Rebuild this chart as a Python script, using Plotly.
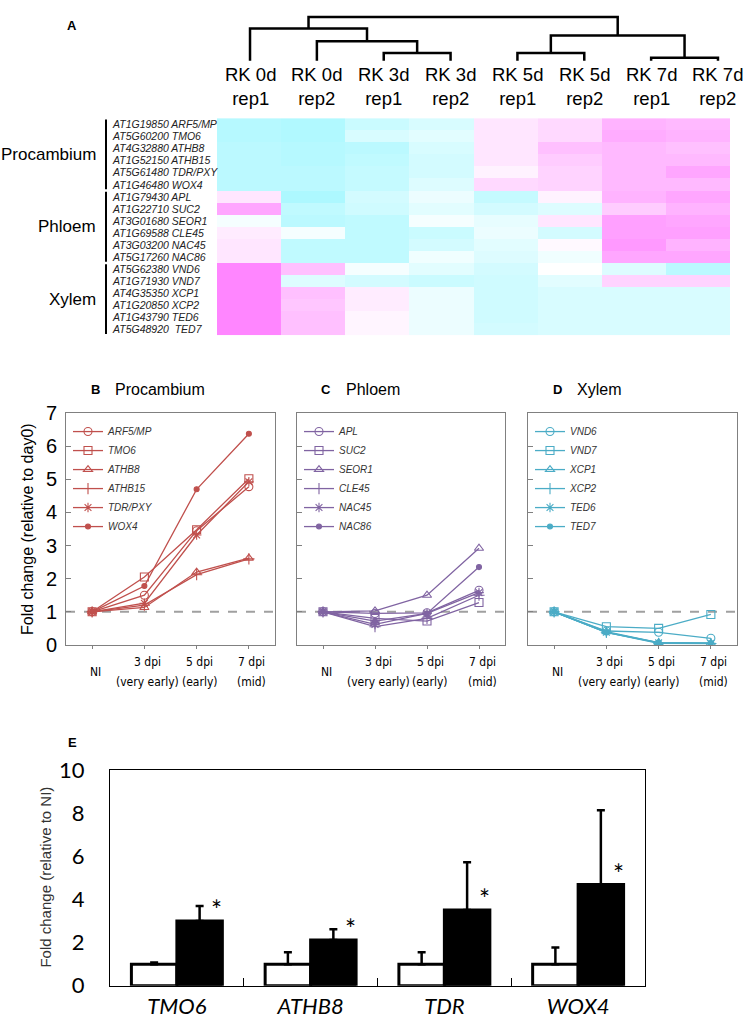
import plotly.graph_objects as go

W, H = 755, 1023


def px(x):
    return x / W


def py(y):
    return 1 - y / H


# ---------------- data ----------------
samples = ["RK 0d<br>rep1", "RK 0d<br>rep2", "RK 3d<br>rep1", "RK 3d<br>rep2",
           "RK 5d<br>rep1", "RK 5d<br>rep2", "RK 7d<br>rep1", "RK 7d<br>rep2"]
genes = ["AT1G19850 ARF5/MP", "AT5G60200 TMO6", "AT4G32880 ATHB8", "AT1G52150 ATHB15",
         "AT5G61480 TDR/PXY", "AT1G46480 WOX4",
         "AT1G79430 APL", "AT1G22710 SUC2", "AT3G01680 SEOR1", "AT1G69588 CLE45",
         "AT3G03200 NAC45", "AT5G17260 NAC86",
         "AT5G62380 VND6", "AT1G71930 VND7", "AT4G35350 XCP1", "AT1G20850 XCP2",
         "AT1G43790 TED6", "AT5G48920  TED7"]
group_names = ["Procambium", "Phloem", "Xylem"]
group_sizes = [6, 6, 6]
heat = [
    [-0.75, -0.80, -0.55, -0.40, 0.20, 0.30, 0.60, 0.55],
    [-0.75, -0.80, -0.40, -0.30, 0.20, 0.30, 0.65, 0.60],
    [-0.70, -0.75, -0.70, -0.40, 0.20, 0.50, 0.55, 0.50],
    [-0.70, -0.75, -0.65, -0.45, 0.20, 0.40, 0.55, 0.55],
    [-0.70, -0.70, -0.60, -0.45, 0.10, 0.35, 0.55, 0.70],
    [-0.70, -0.70, -0.60, -0.35, 0.30, 0.35, 0.55, 0.55],
    [0.20, -0.85, -0.45, -0.20, -0.60, 0.10, 0.60, 0.70],
    [0.70, -0.65, -0.50, -0.30, -0.45, -0.35, 0.40, 0.60],
    [-0.10, -0.70, -0.65, -0.10, -0.25, 0.20, 0.75, 0.70],
    [0.15, -0.10, -0.65, -0.55, -0.20, -0.45, 0.75, 0.75],
    [0.20, -0.65, -0.65, -0.45, -0.30, 0.05, 0.80, 0.60],
    [0.20, -0.65, -0.65, -0.15, -0.35, -0.15, 0.70, 0.70],
    [0.95, 0.50, -0.10, -0.30, -0.45, 0.00, -0.35, -0.70],
    [0.95, -0.35, -0.45, -0.55, -0.50, -0.30, 0.35, 0.35],
    [0.95, 0.50, 0.15, -0.20, -0.50, -0.40, -0.40, -0.40],
    [0.95, 0.45, 0.15, -0.20, -0.50, -0.40, -0.40, -0.40],
    [0.95, 0.50, 0.08, -0.20, -0.50, -0.40, -0.40, -0.40],
    [0.95, 0.50, 0.08, -0.20, -0.45, -0.40, -0.40, -0.40],
]
# dendrogram merges: (child_a, child_b, height); leaves 0..7, merge i gets id 8+i
dendro_merges = [(2, 3, 8), (1, 8, 20), (0, 9, 33), (4, 5, 8), (6, 7, 3), (11, 12, 26), (10, 13, 45)]

time_labels = ["NI", "3 dpi", "5 dpi", "7 dpi"]
time_notes = ["", "(very early)", "(early)", "(mid)"]

proc_genes = ["ARF5/MP", "TMO6", "ATHB8", "ATHB15", "TDR/PXY", "WOX4"]
proc_vals = [
    [1, 1.50, 3.45, 4.78],
    [1, 2.05, 3.48, 5.02],
    [1, 1.13, 2.20, 2.62],
    [1, 1.20, 2.12, 2.60],
    [1, 1.26, 3.32, 4.93],
    [1, 1.78, 4.70, 6.38],
]
phl_genes = ["APL", "SUC2", "SEOR1", "CLE45", "NAC45", "NAC86"]
phl_vals = [
    [1, 0.95, 0.97, 1.65],
    [1, 0.80, 0.72, 1.28],
    [1, 1.03, 1.50, 2.92],
    [1, 0.55, 0.80, 1.50],
    [1, 0.62, 0.95, 1.58],
    [1, 0.72, 0.95, 2.35],
]
xyl_genes = ["VND6", "VND7", "XCP1", "XCP2", "TED6", "TED7"]
xyl_vals = [
    [1, 0.42, 0.38, 0.20],
    [1, 0.55, 0.50, 0.92],
    [1, 0.40, 0.07, 0.05],
    [1, 0.38, 0.05, 0.04],
    [1, 0.38, 0.06, 0.05],
    [1, 0.38, 0.07, 0.05],
]

e_genes = ["TMO6", "ATHB8", "TDR", "WOX4"]
e_ni = [1.0, 1.0, 1.0, 1.0]
e_ni_err = [0.08, 0.55, 0.55, 0.77]
e_trt = [3.0, 2.12, 3.52, 4.7]
e_trt_err = [0.7, 0.5, 2.22, 3.45]

# ---------------- styles ----------------
FONT = "Liberation Sans, Arial, sans-serif"
NARROW = "Liberation Sans Narrow, Arial Narrow, DejaVu Sans Condensed, sans-serif"
CAL = "Lato, Carlito, Calibri, sans-serif"
symbols = ["circle-open", "square-open", "triangle-up-open", "cross-thin-open", "asterisk-open", "circle"]
msizes = [8, 8, 8, 8, 8, 5]

fig = go.Figure()

# ---------------- panel A: heatmap ----------------
fig.add_trace(go.Heatmap(
    z=heat, x=list(range(len(samples))), y=list(range(len(genes))),
    zmin=-1, zmax=1,
    colorscale=[[0, "#9EF7FF"], [0.5, "#FFFFFF"], [1, "#FF80FF"]],
    showscale=False, xaxis="x", yaxis="y", hoverinfo="skip"))

# dendrogram
node_x = {i: float(i) for i in range(len(samples))}
node_h = {i: 0.0 for i in range(len(samples))}
dx, dy = [], []
for k, (a, b, h) in enumerate(dendro_merges):
    nid = len(samples) + k
    dx += [node_x[a], node_x[a], node_x[b], node_x[b], None]
    dy += [node_h[a], h, h, node_h[b], None]
    node_x[nid] = (node_x[a] + node_x[b]) / 2
    node_h[nid] = h
fig.add_trace(go.Scatter(x=dx, y=dy, mode="lines", line=dict(color="black", width=2.5),
                         xaxis="x2", yaxis="y2", showlegend=False, hoverinfo="skip"))

annotations = []
shapes = []


def label(x, y, text, size, family=FONT, color="black", xref="paper", yref="paper",
          xanchor="center", yanchor="middle", **kw):
    annotations.append(dict(x=x, y=y, xref=xref, yref=yref, text=text, showarrow=False,
                            xanchor=xanchor, yanchor=yanchor,
                            font=dict(family=family, size=size, color=color, **kw.pop("fontkw", {})),
                            **kw))


for i, s in enumerate(samples):
    label(i, py(74), s, 18.5, xref="x2")
for r, g in enumerate(genes):
    label(px(110), r, g, 10.5, color="#222", yref="y", xanchor="left", fontkw=dict(style="italic"))
start = 0
for name, n in zip(group_names, group_sizes):
    label(px(98), start + (n - 1) / 2, name, 17, yref="y", xanchor="right")
    shapes.append(dict(type="line", xref="paper", yref="y", x0=px(106), x1=px(106),
                       y0=start - 0.4, y1=start + n - 0.6, line=dict(color="black", width=2)))
    start += n

label(px(72), py(12), "<b>A</b>", 13)

# ---------------- panels B, C, D ----------------
panels = [
    ("B", "Procambium", proc_genes, proc_vals, "#C0504D", 3, (66, 275), "legend"),
    ("C", "Phloem", phl_genes, phl_vals, "#8064A2", 4, (297, 505), "legend2"),
    ("D", "Xylem", xyl_genes, xyl_vals, "#4BACC6", 5, (528, 737), "legend3"),
]
xpos = list(range(len(time_labels)))
for letter, title, gnames, gvals, col, ax, (x0, x1), lg in panels:
    for gi, (gname, vals) in enumerate(zip(gnames, gvals)):
        fig.add_trace(go.Scatter(
            x=xpos, y=vals, mode="lines+markers", name=gname,
            line=dict(color=col, width=1.3),
            marker=dict(symbol=symbols[gi], size=msizes[gi], color=col,
                        line=dict(color=col, width=1.1)),
            xaxis=f"x{ax}", yaxis=f"y{ax}", legend=lg, hoverinfo="skip"))
    shapes.append(dict(type="line", xref=f"x{ax} domain", yref=f"y{ax}", x0=0, x1=1, y0=1, y1=1,
                       line=dict(color="#A0A0A0", width=2, dash="dash"), layer="below"))
    for i, (t, note) in enumerate(zip(time_labels, time_notes)):
        if note:
            label(i, py(666), t, 12, family=NARROW, xref=f"x{ax}", xshift=3)
            label(i, py(686), note, 12, family=NARROW, xref=f"x{ax}", xshift=3)
        else:
            label(i, py(676), t, 12, family=NARROW, xref=f"x{ax}", xshift=3)
    label(px(x0 + 29), py(386), f"<b>{letter}</b>", 13)
    label(px(x0 + 47), py(386), title, 16, xanchor="left")

label(px(27), py(529), "Fold change (relative to day0)", 16, textangle=-90)

# ---------------- panel E ----------------
fig.add_trace(go.Bar(x=e_genes, y=e_ni, name="NI", marker=dict(color="white", line=dict(color="black", width=3)),
                     error_y=dict(type="data", symmetric=False, array=e_ni_err, arrayminus=[0] * len(e_ni),
                                  color="black", thickness=2.5, width=4),
                     xaxis="x6", yaxis="y6", showlegend=False, hoverinfo="skip"))
fig.add_trace(go.Bar(x=e_genes, y=e_trt, name="RK", marker=dict(color="black", line=dict(color="black", width=3)),
                     error_y=dict(type="data", symmetric=False, array=e_trt_err, arrayminus=[0] * len(e_trt),
                                  color="black", thickness=2.5, width=4),
                     xaxis="x6", yaxis="y6", showlegend=False, hoverinfo="skip"))
for g, v in zip(e_genes, e_trt):
    label(g, v, "*", 26, family=CAL, xref="x6", yref="y6", yanchor="bottom", xshift=40, yshift=-7)
label(px(72), py(748), "<b>E</b>", 13)
label(px(46), py(887), "Fold change (relative to NI)", 15, color="#333", textangle=-90)

# ---------------- layout ----------------
line_axis_common = dict(showline=True, mirror=True, linecolor="#808080", linewidth=1, showgrid=False,
                        zeroline=False)
layout = dict(
    width=W, height=H, margin=dict(l=0, r=0, t=0, b=0),
    paper_bgcolor="white", plot_bgcolor="white",
    font=dict(family=FONT, color="black"),
    barmode="group", bargap=0.32, bargroupgap=0,
    xaxis=dict(domain=[px(217), px(730)], range=[-0.5, len(samples) - 0.5], visible=False),
    yaxis=dict(domain=[py(330), py(107)], range=[len(genes) - 0.5, -0.5], visible=False),
    xaxis2=dict(domain=[px(216.6), px(751.4)], range=[-0.5, len(samples) - 0.5], visible=False, anchor="y2"),
    yaxis2=dict(domain=[py(50), py(1)], range=[-2, 47], visible=False, anchor="x2"),
    annotations=annotations, shapes=shapes,
)
for letter, title, gnames, gvals, col, ax, (x0, x1), lg in panels:
    layout[f"xaxis{ax}"] = dict(domain=[px(x0), px(x1)], range=[-0.5, len(time_labels) - 0.5], anchor=f"y{ax}",
                                tickvals=xpos, ticks="outside", ticklen=3, tickcolor="#808080",
                                showticklabels=False, **line_axis_common)
    layout[f"yaxis{ax}"] = dict(domain=[py(648), py(410)], range=[0, 7], anchor=f"x{ax}", dtick=1,
                                ticks="inside", ticklen=5, tickcolor="#808080",
                                showticklabels=(ax == 3), ticklabelstandoff=4,
                                tickfont=dict(family=FONT, size=20, color="black"),
                                **line_axis_common)
    layout[lg] = dict(x=px(x0 + 2), y=py(414), xanchor="left", yanchor="top", bgcolor="rgba(0,0,0,0)",
                      font=dict(family=FONT, size=10, color="#333", style="italic"),
                      itemwidth=30, tracegroupgap=0)

layout["xaxis6"] = dict(domain=[px(110), px(645)], anchor="y6", type="category",
                        tickson="boundaries", ticks="inside", ticklen=8, tickcolor="black", tickwidth=1,
                        showline=True, mirror=True, linecolor="black", linewidth=1.3,
                        tickfont=dict(family=CAL, size=22, color="black", style="italic"),
                        ticklabelstandoff=1, showgrid=False)
layout["yaxis6"] = dict(domain=[py(998), py(777)], range=[0, 10], dtick=2, anchor="x6",
                        showline=True, mirror=True, linecolor="black", linewidth=1.3,
                        ticks="", tickfont=dict(family=CAL, size=22, color="black"),
                        ticklabelstandoff=20, showgrid=False, zeroline=False)

fig.update_layout(**layout)
fig.write_html(
    "out.html",
    config={"displayModeBar": False},
    post_script="document.body.style.margin='0';document.body.style.overflow='hidden';",
)
